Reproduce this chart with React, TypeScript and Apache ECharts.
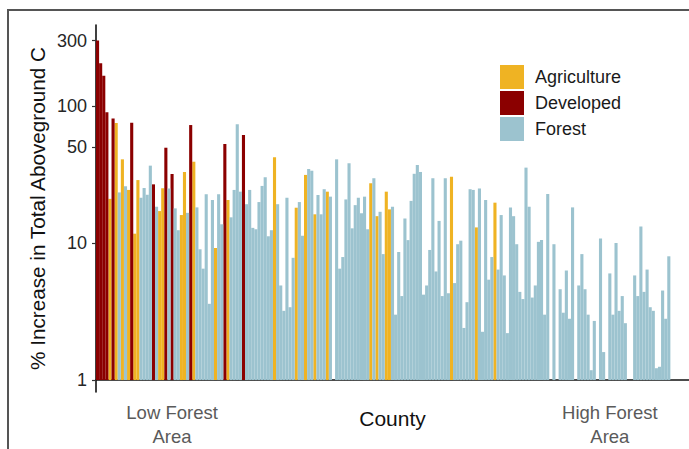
import React, { useEffect, useRef } from "react";
import * as echarts from "echarts";

// % increase in total aboveground C, one value per county (sorted low → high forest area)
const increase: number[] = [
  300, 205, 166, 90, 21, 81, 75, 23.4, 40.8, 26,
  24.4, 75.5, 11.7, 28.8, 21.4, 25.2, 22.5, 36.7, 26.8, 18.4,
  17.1, 25.1, 49.6, 25, 31.9, 17.9, 12.4, 16, 33, 16.6,
  72.6, 39.2, 18.2, 9.0, 6.5, 22.7, 3.6, 20.6, 9.2, 22.7,
  13.7, 52.8, 20.6, 15.4, 24.4, 73.5, 23.7, 61.4, 19.2, 24.4,
  12.9, 12.6, 19.9, 26.1, 30.2, 11.2, 12.4, 42.2, 19.2, 4.9,
  3.2, 21.4, 3.4, 7.8, 18.1, 19.9, 11.3, 31.4, 34.7, 33.7,
  16.2, 22.4, 16.2, 24.7, 23.7, 21.8, 1, 40.8, 6.5, 7.9,
  20.8, 38.2, 12.8, 18.9, 21.4, 16.5, 21.8, 12.6, 27.3, 29.7,
  15.7, 16.9, 8.3, 23.7, 17.6, 18.4, 3.0, 8.6, 4.1, 15.1,
  10.5, 20.3, 32, 37.1, 33, 4.2, 4.9, 8.9, 29.7, 6.2,
  14.5, 4.1, 29.7, 4.3, 30.5, 5.1, 9.8, 10.4, 2.4, 3.7,
  24.7, 24.4, 13.0, 25.0, 2.25, 20.6, 5.4, 7.9, 19.7, 6.4,
  16, 5.8, 2.2, 18.2, 15.7, 9.8, 4.4, 3.9, 35.5, 18.4,
  4.0, 4.9, 10.2, 10.5, 3.0, 22.8, 1, 9.8, 1, 4.6,
  3.1, 6.3, 2.8, 18.2, 1, 4.9, 8.3, 4.6, 3.0, 1.18,
  2.7, 1, 10.8, 1.6, 1, 6.0, 3.0, 10.0, 3.2, 4.1,
  2.6, 1, 1, 5.8, 4.1, 13.2, 4.4, 6.4, 3.4, 3.2,
  1.22, 1.25, 4.5, 2.8, 8.0,
];

// dominant land use: A = Agriculture, D = Developed, F = Forest
const cover: string[] = (
  "DDDDADAFAF" +
  "ADAAFFFFDF" +
  "AADFDFFAAF" +
  "DAFFFFFFAF" +
  "FDAFFFFDFF" +
  "FFFFFFFAFF" +
  "FFFFAFFAFF" +
  "AFFFAFFFFF" +
  "FFFFFFFFAF" +
  "AFFAAFFFFF" +
  "FFFFFFFFFF" +
  "FFFFAFFFFF" +
  "FFAFFFFFAF" +
  "FFFFFFFFFF" +
  "FFFFFFFFFF" +
  "FFFFFFFFFF" +
  "FFFFFFFFFF" +
  "FFFFFFFFFF" +
  "FFFFF"
).split("");

const counties: string[] = increase.map((_, i) => `County ${i + 1}`);

const seriesNames = ["Agriculture", "Developed", "Forest"];
const seriesCodes = ["A", "D", "F"];
const seriesColors = ["#EFB323", "#8B0000", "#9CC3CF"];

const yTickLabels: number[] = [1, 10, 50, 100, 300];
const xTickLabels: { index: number; text: string }[] = [
  { index: 24, text: "Low Forest\nArea" },
  { index: 165, text: "High Forest\nArea" },
];

const FONT = "'Liberation Sans', Arial, Helvetica, sans-serif";

export default function App() {
  const ref = useRef<HTMLDivElement>(null);

  useEffect(() => {
    if (!ref.current) return;
    const chart = echarts.init(ref.current, undefined, { renderer: "svg" });
    const tickVals = yTickLabels.map((v) => Math.log10(v));
    const labelMap: Record<number, string> = {};
    xTickLabels.forEach((t) => (labelMap[t.index] = t.text));

    const series = seriesNames.map((name, s) => ({
      name,
      type: "bar",
      barGap: "-100%",
      barCategoryGap: "0%",
      itemStyle: { color: seriesColors[s] },
      data: increase.map((v, i) =>
        cover[i] === seriesCodes[s] ? Math.log10(v) : null
      ),
    }));

    chart.setOption({
      animation: false,
      backgroundColor: "#ffffff",
      textStyle: { fontFamily: FONT },
      grid: {
        left: 96,
        right: 0,
        top: 25,
        bottom: 57,
        containLabel: false,
        outerBoundsMode: "none",
      },
      legend: {
        orient: "vertical",
        left: 500,
        top: 65,
        padding: 0,
        itemWidth: 24,
        itemHeight: 24,
        itemGap: 2,
        icon: "rect",
        data: seriesNames,
        textStyle: {
          fontSize: 18,
          color: "#1a1a1a",
          fontFamily: FONT,
          padding: [0, 0, 0, 6],
        },
      },
      xAxis: {
        type: "category",
        data: counties,
        max: 190,
        boundaryGap: true,
        axisLine: { show: true, lineStyle: { color: "#111", width: 1.6 } },
        axisTick: { show: false },
        splitLine: { show: false },
        axisLabel: {
          interval: (idx: number) => labelMap[idx] !== undefined,
          formatter: (_v: string, idx: number) => labelMap[idx] ?? "",
          margin: 8,
          fontSize: 18.5,
          lineHeight: 24,
          color: "#5a5a5a",
          fontFamily: FONT,
          align: "center",
        },
        name: "County",
        nameLocation: "middle",
        nameGap: 16,
        nameMoveOverlap: false,
        nameTextStyle: { fontSize: 21, color: "#111", fontFamily: FONT },
      },
      yAxis: {
        type: "value",
        min: Math.log10(0.818),
        max: Math.log10(390),
        splitLine: { show: false },
        axisLine: { show: true, lineStyle: { color: "#111", width: 1.6 } },
        axisTick: {
          show: true,
          length: 4,
          customValues: tickVals,
          lineStyle: { color: "#333", width: 1.2 },
        },
        axisLabel: {
          customValues: tickVals,
          formatter: (v: number) => String(Math.round(Math.pow(10, v))),
          fontSize: 18,
          color: "#262626",
          margin: 9,
          fontFamily: FONT,
        },
        name: "% Increase in Total Aboveground C",
        nameLocation: "middle",
        nameGap: 48,
        nameRotate: 90,
        nameMoveOverlap: false,
        nameTextStyle: { fontSize: 20.7, color: "#111", fontFamily: FONT },
      },
      graphic: [
        {
          type: "rect",
          silent: true,
          z: 100,
          shape: { x: 8, y: 10, width: 720, height: 480 },
          style: { fill: "none", stroke: "#555", lineWidth: 2 },
        },
      ],
      series,
    });
    return () => chart.dispose();
  }, []);

  return (
    <div
      ref={ref}
      style={{ position: "fixed", left: 0, top: 0, width: 689, height: 449 }}
    />
  );
}
